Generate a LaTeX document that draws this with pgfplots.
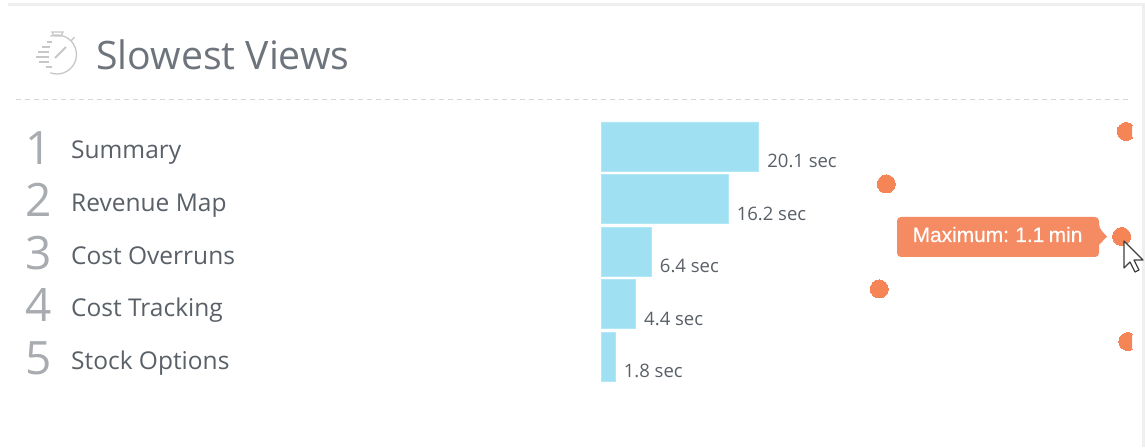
\documentclass[border=0pt]{standalone}
\usepackage{pgfplots}
\pgfplotsset{compat=1.18}
\usepackage{fontspec}
\setmainfont{Open Sans}
\newfontfamily\tipfont[FakeBold=0.5,WordSpace=0.75]{Liberation Sans}
\definecolor{barblue}{HTML}{9FE1F3}
\definecolor{dotorange}{HTML}{F58557}
\definecolor{tiporange}{HTML}{F58B63}
\definecolor{txt}{HTML}{5A6068}
\definecolor{titlecol}{HTML}{6E747C}
\definecolor{rankcol}{HTML}{A8ABAF}
\definecolor{rule}{HTML}{EFEFEF}
\begin{document}
\begin{tikzpicture}[x=1pt,y=1pt]
\path[use as bounding box] (0,0) rectangle (1145,447);
\fill[white] (0,0) rectangle (1145,447);
% stopwatch arc (unflipped coordinates)
\draw[color=black!22,line width=1.3pt] (57,392.5) ++(110:19.5) arc[start angle=110,end angle=-110,radius=19.5];
\begin{scope}[shift={(0,447)},y=-1pt]
\fill[rule] (8,3) rectangle (1145,6.5);
\fill[rule] (1142,3) rectangle (1145,447);
\draw[color=black!16,line width=1pt,dash pattern=on 4.5pt off 4.5pt] (16,100) -- (1130,100);
\begin{scope}[color=black!22,line width=1.3pt]
\draw (52,32) -- (63,32) -- (61,36) -- (54,36) -- cycle;
\draw (71,41) -- (74.5,37);
\draw[line width=2pt] (55,58) -- (66,47);
\foreach \yy/\xa/\xb in {42/47/52,47/42/50,52/38/49,57/36/49,62/39/49,67/46/52}
  \draw (\xa,\yy) -- (\xb,\yy);
\end{scope}
\node[anchor=base west,inner sep=0pt,font=\fontsize{39.2}{39}\selectfont,text=titlecol] at (96,70) {Slowest Views};
\foreach \r/\yy in {1/165,2/217,3/270,4/322,5/375}
  \node[anchor=base west,inner sep=0pt,font=\fontsize{46}{46}\selectfont,text=rankcol] at (25,\yy) {\r};
\end{scope}
\begin{axis}[
  at={(601pt,52pt)},anchor=south west,
  scale only axis,width=531pt,height=285pt,
  xmin=0,xmax=67.73,ymin=0.305,ymax=5.733,y dir=reverse,
  axis line style={draw=none},major tick length=0pt,
  xtick=\empty,ytick={1,2,3,4,5},
  yticklabels={Summary,Revenue Map,Cost Overruns,Cost Tracking,Stock Options},
  yticklabel style={anchor=base west,xshift=-530pt,yshift=-12.5pt,text=txt,font=\fontsize{24.5}{24}\selectfont,inner sep=0pt},
  clip mode=individual,clip marker paths=true,
]
\addplot[xbar,bar width=49pt,fill=barblue,draw=barblue!80!white,line width=.5pt,bar shift=0pt,
  point meta=x,
  nodes near coords={\pgfmathprintnumber[fixed,precision=1,zerofill,assume math mode=true]{\pgfplotspointmeta} sec},
  nodes near coords style={anchor=west,inner sep=0pt,xshift=8.5pt,yshift=-14.5pt,text=txt,font=\fontsize{18.5}{18.5}\selectfont}]
  coordinates {(20.1,1) (16.2,2) (6.4,3) (4.4,4) (1.8,5)};
\addplot[only marks,mark=*,mark size=9pt,draw=dotorange,fill=dotorange,mark options={fill=dotorange,draw=dotorange,line width=0pt}]
  coordinates {(67.0,0.714) (36.4,1.714) (66.4,2.714) (35.5,3.714) (67.2,4.714)};
\end{axis}
\begin{scope}[shift={(0,447)},y=-1pt]
\fill[tiporange,rounded corners=4pt] (897,217) -- (1099,217) -- (1099,228) [sharp corners] -- (1107,236.5) -- (1099,245) [rounded corners=4pt] -- (1099,257) -- (897,257) -- cycle;
\node[anchor=base,inner sep=0pt,text=white,font=\tipfont\fontsize{20.9}{20}\selectfont] at (997.5,242) {Maximum: 1.1 min};
\draw[fill=white,draw=black!75,line width=1.2pt,line join=round] (1124,241) -- (1124,268) -- (1130,262) -- (1135,272) -- (1139,270) -- (1134,260) -- (1143,260) -- cycle;
\end{scope}
\end{tikzpicture}
\end{document}
